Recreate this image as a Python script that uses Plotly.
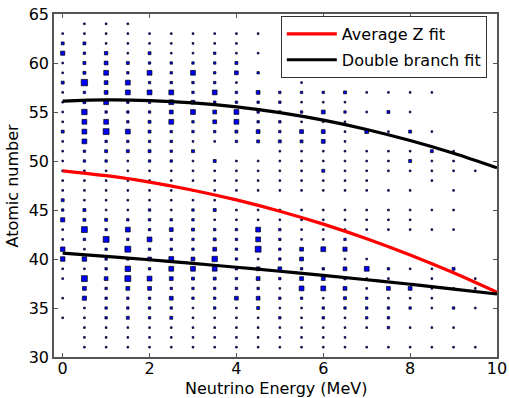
import numpy as np
import plotly.graph_objects as go

# Neutrino energies (MeV) of the grid columns
energies = [0, 0.5, 1, 1.5, 2, 2.5, 3, 3.5, 4, 4.5, 5, 5.5, 6, 6.5, 7, 7.5, 8, 8.5, 9, 9.5]
# Atomic numbers of the grid rows
atomic_numbers = list(range(31, 65))

# Relative yield weight at each (energy, Z); one list per energy, Z = 31..64
yield_weights = [
    [0,0,0,1,0,1,0,1,1,7,7,1,1,6,2,3,1,1,1,1,1,1,3,1,1,1,1,3,1,1,6,3,1,0],
    [1,1,1,1,1,6,5,12,1,7,1,2,12,3,3,1,1,1,1,2,2,8,8,8,10,3,2,14,3,3,2,3,1,1],
    [1,1,1,2,2,2,2,5,2,2,2,12,2,3,1,1,1,1,1,2,3,2,12,8,2,8,5,5,8,5,4,1,1,1],
    [1,1,1,3,2,2,5,12,10,2,12,2,8,2,1,1,1,1,1,1,3,2,8,2,2,2,8,8,2,3,1,1,1,1],
    [1,1,1,2,2,2,5,8,2,5,2,8,2,2,2,1,1,1,1,2,3,2,3,3,2,2,8,2,8,2,3,1,1,0],
    [1,1,1,3,2,5,2,5,8,8,2,2,5,2,1,1,1,1,1,2,2,2,2,8,5,8,8,2,2,2,1,1,1,0],
    [1,1,1,1,1,2,2,3,8,5,2,2,3,2,2,1,1,1,1,1,3,1,2,2,8,5,2,2,8,2,1,1,1,0],
    [1,1,1,1,2,2,2,3,8,10,5,3,2,1,3,1,1,1,1,3,0,1,2,5,5,2,8,2,2,2,2,1,1,0],
    [1,1,1,1,1,5,2,2,2,2,2,2,2,1,1,0,1,1,1,1,0,2,3,8,8,2,2,1,5,3,1,1,1,0],
    [1,1,1,1,3,5,2,5,5,1,12,8,8,1,1,0,1,1,1,1,0,3,5,2,2,2,5,0,2,0,1,0,1,0],
    [1,1,1,2,1,2,1,2,5,2,2,2,2,1,1,0,1,1,1,1,1,3,2,2,2,2,2,0,0,0,0,0,0,0],
    [1,1,1,1,1,2,8,5,2,5,5,1,1,1,1,0,1,1,1,1,1,3,5,1,2,1,2,1,0,0,0,0,0,0],
    [1,1,1,2,2,1,8,5,2,0,8,1,1,1,1,0,1,1,3,1,1,5,5,1,5,1,2,0,0,0,0,0,0,0],
    [1,1,1,1,2,3,5,2,5,1,6,2,1,1,1,0,1,1,1,1,1,1,1,1,2,1,3,0,0,0,0,0,0,0],
    [1,0,1,2,2,2,1,1,8,1,0,0,1,1,1,0,1,1,1,1,1,0,5,0,1,0,1,0,0,0,0,0,0,0],
    [1,0,2,2,2,1,5,1,2,0,0,0,1,1,1,0,1,0,1,1,1,0,1,0,3,0,1,0,0,0,0,0,0,0],
    [1,0,1,0,2,1,5,0,1,0,0,0,1,1,1,0,1,0,1,3,1,0,3,0,1,0,1,0,0,0,0,0,0,0],
    [1,0,1,0,1,1,1,1,1,0,0,0,1,0,1,0,0,1,1,1,3,0,1,0,0,0,1,0,0,0,0,0,0,0],
    [1,0,1,0,2,0,1,0,3,0,0,0,1,0,1,0,1,0,1,1,1,0,0,0,0,0,0,0,0,0,0,0,0,0],
    [1,0,0,0,1,0,1,1,0,0,0,0,0,0,0,0,0,0,1,0,0,0,0,0,0,0,0,0,0,0,0,0,0,0],
]

# Fit curves read at integer energies
fit_energy = [0, 1, 2, 3, 4, 5, 6, 7, 8, 9, 10]
avg_z_fit = [49.0, 48.5, 47.85, 47.02, 46.03, 44.88, 43.56, 42.07, 40.41, 38.59, 36.6]
upper_branch = [56.1, 56.23, 56.17, 55.94, 55.53, 54.94, 54.17, 53.22, 52.09, 50.79, 49.3]
lower_branch = [40.6, 40.27, 39.92, 39.55, 39.16, 38.75, 38.32, 37.88, 37.42, 36.93, 36.43]

xs, ys, ws = [], [], []
for e, col in zip(energies, yield_weights):
    for z, w in zip(atomic_numbers, col):
        if w > 0:
            xs.append(e)
            ys.append(z)
            ws.append(w)
sizes = [1.7 * np.sqrt(w) for w in ws]

fig = go.Figure()
fig.add_trace(go.Scatter(
    x=xs, y=ys, mode="markers", showlegend=False, hoverinfo="skip",
    marker=dict(symbol="square", size=sizes, color="#0000ff", opacity=1,
                line=dict(color="black", width=0.7)),
))
fig.add_trace(go.Scatter(
    x=fit_energy, y=avg_z_fit, mode="lines", name="Average Z fit", legendgroup="a",
    line=dict(color="#ff0000", width=3.2, shape="spline"),
))
fig.add_trace(go.Scatter(
    x=fit_energy, y=upper_branch, mode="lines", name="Double branch fit", legendgroup="b",
    line=dict(color="black", width=3.2, shape="spline"),
))
fig.add_trace(go.Scatter(
    x=fit_energy, y=lower_branch, mode="lines", showlegend=False, legendgroup="b",
    line=dict(color="black", width=3.2, shape="spline"),
))

axis_common = dict(
    showgrid=False, zeroline=False, showline=True, linecolor="#555555", linewidth=1.5,
    mirror="allticks", ticks="inside", ticklen=4, tickwidth=1, tickcolor="#555555",
    tickfont=dict(family="DejaVu Sans", size=16, color="black"), automargin=False,
)
fig.update_layout(
    width=509, height=398,
    margin=dict(l=54, r=12, t=14, b=41),
    paper_bgcolor="white", plot_bgcolor="white",
    font=dict(family="DejaVu Sans", size=16, color="black"),
    xaxis=dict(range=[-0.2, 10], tickvals=[0, 2, 4, 6, 8, 10], ticklabelstandoff=-4,
               **axis_common),
    yaxis=dict(range=[30, 65], tickvals=[30, 35, 40, 45, 50, 55, 60, 65],
               **axis_common),
    legend=dict(x=0.512, y=0.994, xanchor="left", yanchor="top",
                bgcolor="white", bordercolor="#333333", borderwidth=1,
                font=dict(size=16), itemwidth=50, tracegroupgap=2,
                traceorder="grouped"),
    annotations=[
        dict(text="Neutrino Energy (MeV)", xref="paper", yref="paper",
             x=0.5, y=-31 / 343, xanchor="center", yanchor="middle",
             showarrow=False, font=dict(size=16)),
        dict(text="Atomic number", xref="paper", yref="paper",
             x=-42 / 443, y=0.5, xanchor="center", yanchor="middle",
             textangle=-90, showarrow=False, font=dict(size=16)),
    ],
)
fig.write_html("out.html")
